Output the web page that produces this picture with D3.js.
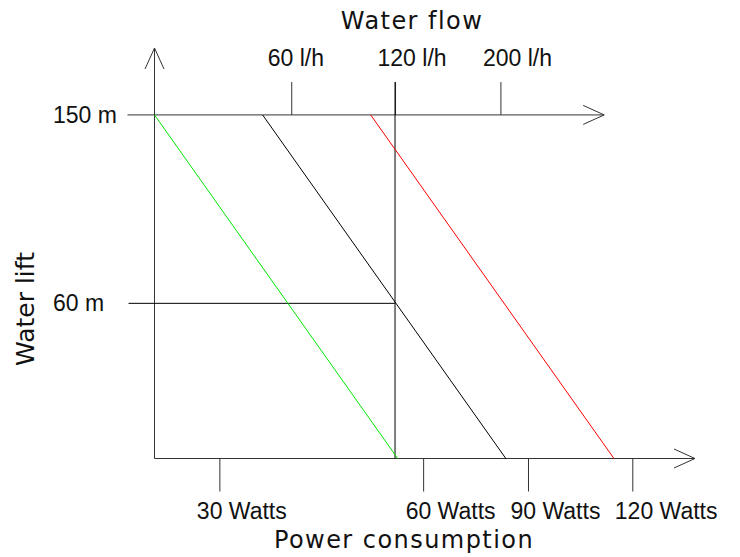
<!DOCTYPE html>
<html>
<head>
<meta charset="utf-8">
<script src="https://cdn.jsdelivr.net/npm/d3@7"></script>
<style>
  html, body { margin: 0; padding: 0; background: #fff; }
  svg { display: block; }
  .tick-label { font-family: "Liberation Sans", Arial, sans-serif; font-size: 23px; fill: #111; }
  .title { font-family: "DejaVu Sans", Verdana, sans-serif; font-size: 24px; fill: #111; }
  .title.wide { letter-spacing: 1.45px; }
  .title.vert { font-size: 25px; }
</style>
</head>
<body>
<svg id="chart" width="740" height="557"></svg>
<script>
// ---- data (diagram units, 0..100 on each axis) ----
const powerTicks = [12, 49.7, 69.1, 88.4];
const powerLabels = ["30 Watts", "60 Watts", "90 Watts", "120 Watts"];
const flowTicks = [25.3, 44.5, 64];
const flowLabels = ["60 l/h", "120 l/h", "200 l/h"];
const liftTicks = [83.7, 37.8];
const liftLabels = ["150 m", "60 m"];
const seriesNames = ["low", "mid", "high"];
const seriesTopX = [0, 20, 40];
const seriesBottomX = [45, 65, 85];
const seriesColors = ["#00e600", "#000000", "#ff0000"];
const refFlow = 44.5;      // 120 l/h reference
const refLift = 37.8;      // 60 m reference
const flowAxisEnd = 83.2;
const tickTopEnd = 91.7;

const svg = d3.select("#chart");
const x = d3.scaleLinear().domain([0, 100]).range([154.5, 695]);
const y = d3.scaleLinear().domain([0, 100]).range([458.5, 48]);

const axisColor = "#333";

// left axis
svg.append("line").attr("x1", x(0)).attr("x2", x(0)).attr("y1", y(0)).attr("y2", y(100))
  .attr("stroke", axisColor).attr("stroke-width", 1);
// bottom axis
svg.append("line").attr("x1", x(0)).attr("x2", x(100)).attr("y1", y(0)).attr("y2", y(0))
  .attr("stroke", axisColor).attr("stroke-width", 1);
// top (flow) axis
svg.append("line").attr("x1", x(0) - 27).attr("x2", x(flowAxisEnd)).attr("y1", y(liftTicks[0])).attr("y2", y(liftTicks[0]))
  .attr("stroke", axisColor).attr("stroke-width", 1);

// arrow heads
function arrow(tx, ty, dir) {
  const L = 21, W = 9.5;
  let p;
  if (dir === "up") p = [[tx - W, ty + L], [tx, ty], [tx + W, ty + L]];
  else p = [[tx - L, ty - W], [tx, ty], [tx - L, ty + W]];
  svg.append("path").attr("d", d3.line()(p)).attr("fill", "none")
    .attr("stroke", axisColor).attr("stroke-width", 1);
}
arrow(x(0), y(100), "up");
arrow(x(100), y(0), "right");
arrow(x(flowAxisEnd), y(liftTicks[0]), "right");

// bottom ticks (power)
const gB = svg.append("g").attr("transform", `translate(0,${y(0)})`)
  .call(d3.axisBottom(x).tickValues(powerTicks).tickSize(33).tickFormat((d, i) => powerLabels[i]));
gB.select(".domain").remove();
gB.selectAll(".tick line").attr("stroke", axisColor);
gB.selectAll(".tick text").attr("class", "tick-label").attr("text-anchor", "start")
  .attr("dx", (d, i) => i === 0 ? -23 : -18).attr("y", 60).attr("dy", 0);

// top ticks (flow)
const gT = svg.append("g").attr("transform", `translate(0,${y(liftTicks[0])})`)
  .call(d3.axisTop(x).tickValues(flowTicks).tickSize(y(liftTicks[0]) - y(tickTopEnd)).tickFormat((d, i) => flowLabels[i]));
gT.select(".domain").remove();
gT.selectAll(".tick line").attr("stroke", axisColor);
gT.selectAll(".tick text").attr("class", "tick-label").attr("text-anchor", "start")
  .attr("dx", (d, i) => i === 0 ? -24 : -18).attr("y", -49).attr("dy", 0);

// lift labels
svg.selectAll(".lift-label").data(liftLabels).join("text")
  .attr("class", "tick-label").attr("x", 53).attr("y", (d, i) => y(liftTicks[i]) + 8)
  .text(d => d);

// 60 m reference line
svg.append("line").attr("x1", x(0) - 26).attr("x2", x(refFlow))
  .attr("y1", y(refLift)).attr("y2", y(refLift))
  .attr("stroke", "#000").attr("stroke-width", 1);
// 120 l/h reference line
svg.append("line").attr("x1", x(refFlow)).attr("x2", x(refFlow))
  .attr("y1", y(0)).attr("y2", y(tickTopEnd))
  .attr("stroke", "#000").attr("stroke-width", 1);

// series lines
svg.selectAll(".series").data(seriesNames).join("line")
  .attr("class", "series")
  .attr("x1", (d, i) => x(seriesTopX[i])).attr("y1", y(liftTicks[0]))
  .attr("x2", (d, i) => x(seriesBottomX[i])).attr("y2", y(0))
  .attr("stroke", (d, i) => seriesColors[i]).attr("stroke-width", 1);

// titles
svg.append("text").attr("class", "title wide").attr("x", 412).attr("y", 29)
  .attr("text-anchor", "middle").text("Water flow");
svg.append("text").attr("class", "title wide").attr("x", 404).attr("y", 548)
  .attr("text-anchor", "middle").text("Power consumption");
svg.append("text").attr("class", "title vert").attr("transform", "translate(34,309) rotate(-90)")
  .attr("text-anchor", "middle").text("Water lift");
</script>
</body>
</html>
